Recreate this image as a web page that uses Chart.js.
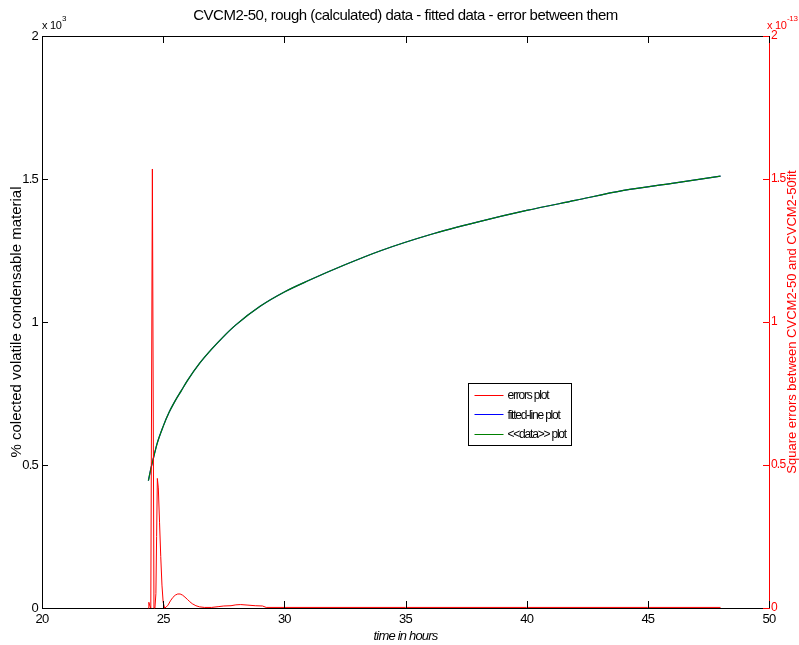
<!DOCTYPE html>
<html lang="en">
<head>
  <meta charset="UTF-8">
  <title>CVCM2-50 rough / fitted / error</title>
  <script src="https://cdn.jsdelivr.net/npm/chart.js"></script>
  <style>
    html, body { margin: 0; padding: 0; background: #fff; }
  </style>
</head>
<body>
  <canvas id="myChart" width="799" height="645"></canvas>
  <script>
    // axis ranges (left axis x 10^3, right axis x 10^-13)
    const xRange = [20, 50];
    const yRange = [0, 2];
    const xStep = 5;
    const yStep = 0.5;

    // <<data>> and fitted line (x 10^3)
    const fitHours  = [24.39, 24.5, 24.6, 24.75, 25.0, 25.25, 25.5, 25.75, 26.0, 26.5, 27.0, 27.5, 28.0, 29.0, 30.0, 31.0, 32.5, 34.0, 36.0, 38.0, 40.0, 42.0, 44.0, 46.0, 48.0];
    const fitValues = [0.445, 0.49, 0.525, 0.575, 0.635, 0.685, 0.725, 0.76, 0.795, 0.855, 0.905, 0.95, 0.99, 1.055, 1.105, 1.145, 1.2, 1.25, 1.305, 1.35, 1.39, 1.425, 1.46, 1.485, 1.51];
    const dataValues = [0.445, 0.49, 0.525, 0.575, 0.635, 0.685, 0.725, 0.76, 0.795, 0.855, 0.905, 0.95, 0.99, 1.055, 1.105, 1.145, 1.2, 1.25, 1.305, 1.35, 1.39, 1.425, 1.46, 1.485, 1.51];

    // square errors (x 10^-13)
    const errHours  = [24.38, 24.41, 24.44, 24.49, 24.555, 24.62, 24.66, 24.70, 24.73, 24.76, 24.80, 24.85, 24.90, 24.95, 25.00, 25.06, 25.12, 25.2, 25.3, 25.4, 25.5, 25.6, 25.7, 25.8, 25.9, 26.0, 26.1, 26.2, 26.35, 26.5, 26.7, 27.0, 27.3, 27.5, 27.8, 28.0, 28.2, 28.5, 28.8, 29.1, 29.25, 30, 35, 40, 45, 48];
    const errValues = [0, 0.02, 0.01, 0, 1.535, 0, 0, 0.05, 0.25, 0.453, 0.42, 0.3, 0.18, 0.08, 0.02, 0, 0.003, 0.01, 0.025, 0.037, 0.045, 0.049, 0.049, 0.045, 0.038, 0.03, 0.022, 0.015, 0.008, 0.004, 0.002, 0.002, 0.005, 0.007, 0.008, 0.011, 0.012, 0.01, 0.008, 0.007, 0.002, 0.002, 0.002, 0.002, 0.002, 0.002];

    const legendLabels = ['errors plot', 'fitted-line plot', '<<data>> plot'];
    const legendColors = ['#ff0000', '#0000ff', '#008000'];

    const FONT = 'Arial, "Liberation Sans", sans-serif';

    function toPoints(xs, ys) {
      return xs.map((x, i) => ({ x: x, y: ys[i] }));
    }

    // extra MATLAB-look bits: inward ticks, top border, title, exponents, legend
    const matlabAxes = {
      id: 'matlabAxes',
      beforeDraw(chart) {
        const ctx = chart.ctx;
        ctx.save();
        ctx.fillStyle = '#fff';
        ctx.fillRect(0, 0, chart.width, chart.height);
        ctx.restore();
        ctx.letterSpacing = '-0.8px';
      },
      afterDraw(chart) {
        const ctx = chart.ctx;
        const a = chart.chartArea;
        const xs = chart.scales.x, yl = chart.scales.y, yr = chart.scales.y1;
        const tick = 6;
        ctx.save();
        ctx.lineWidth = 1;

        // top border
        ctx.strokeStyle = '#000';
        ctx.beginPath();
        ctx.moveTo(a.left, a.top + 0.5);
        ctx.lineTo(a.right, a.top + 0.5);
        ctx.stroke();

        // x ticks, bottom and top, pointing in
        xs.ticks.forEach(t => {
          const px = Math.round(xs.getPixelForValue(t.value)) + 0.5;
          ctx.beginPath();
          ctx.moveTo(px, a.bottom); ctx.lineTo(px, a.bottom - tick - 1);
          ctx.moveTo(px, a.top); ctx.lineTo(px, a.top + tick + 1);
          ctx.stroke();
        });
        // left ticks
        yl.ticks.forEach(t => {
          const py = Math.round(yl.getPixelForValue(t.value)) + 0.5;
          ctx.beginPath();
          ctx.moveTo(a.left, py); ctx.lineTo(a.left + tick, py);
          ctx.stroke();
        });
        // right ticks (red)
        ctx.strokeStyle = '#ff0000';
        yr.ticks.forEach(t => {
          const py = Math.round(yr.getPixelForValue(t.value)) + 0.5;
          ctx.beginPath();
          ctx.moveTo(a.right, py); ctx.lineTo(a.right - tick, py);
          ctx.stroke();
        });

        // title
        ctx.letterSpacing = '-0.5px';
        ctx.fillStyle = '#000';
        ctx.font = '15px ' + FONT;
        ctx.textAlign = 'center';
        ctx.textBaseline = 'middle';
        ctx.fillText('CVCM2-50, rough (calculated) data - fitted data - error between them', (a.left + a.right) / 2, 16);

        // exponent labels
        ctx.letterSpacing = '-0.3px';
        ctx.textAlign = 'left';
        ctx.font = '11px ' + FONT;
        ctx.fillText('x 10', a.left, 26);
        ctx.font = '8px ' + FONT;
        ctx.fillText('3', a.left + 20, 19);
        ctx.fillStyle = '#ff0000';
        ctx.font = '11px ' + FONT;
        ctx.fillText('x 10', a.right - 2, 26);
        ctx.font = '8px ' + FONT;
        ctx.fillText('-13', a.right + 18, 19);

        // axis titles
        ctx.letterSpacing = '0px';
        ctx.textAlign = 'center';
        ctx.save();
        ctx.fillStyle = '#000';
        ctx.font = '15px ' + FONT;
        ctx.translate(17, (a.top + a.bottom) / 2);
        ctx.rotate(-Math.PI / 2);
        ctx.fillText('% colected volatile condensable material', 0, 0);
        ctx.restore();
        ctx.save();
        ctx.fillStyle = '#ff0000';
        ctx.font = '13px ' + FONT;
        ctx.translate(792, (a.top + a.bottom) / 2);
        ctx.rotate(-Math.PI / 2);
        ctx.fillText('Square errors between CVCM2-50 and CVCM2-50fit', 0, 0);
        ctx.restore();
        ctx.fillStyle = '#000';
        ctx.letterSpacing = '-0.8px';
        ctx.font = 'italic 13px ' + FONT;
        ctx.fillText('time in hours', (a.left + a.right) / 2, 636);

        // legend box
        const bx = 468.5, by = 383.5, bw = 103, bh = 62;
        ctx.fillStyle = '#fff';
        ctx.fillRect(bx, by, bw, bh);
        ctx.strokeStyle = '#000';
        ctx.strokeRect(bx, by, bw, bh);
        ctx.font = '12px ' + FONT;
        ctx.letterSpacing = '-1.2px';
        ctx.textAlign = 'left';
        legendLabels.forEach((lbl, i) => {
          const ly = by + 11.5 + i * 19.3;
          ctx.strokeStyle = legendColors[i];
          ctx.beginPath();
          ctx.moveTo(bx + 6, Math.round(ly) + 0.5);
          ctx.lineTo(bx + 35, Math.round(ly) + 0.5);
          ctx.stroke();
          ctx.fillStyle = '#000';
          ctx.fillText(lbl, bx + 39, ly + 1);
        });
        ctx.restore();
      }
    };

    const tickText = v => String(v);

    const ctx = document.getElementById('myChart').getContext('2d');
    new Chart(ctx, {
      type: 'line',
      data: {
        datasets: [
          {
            label: 'errors plot',
            data: toPoints(errHours, errValues),
            yAxisID: 'y1',
            borderColor: '#ff0000',
            borderWidth: 1,
            pointRadius: 0,
            tension: 0,
            clip: 4,
            order: 0
          },
          {
            label: '<<data>> plot',
            data: toPoints(fitHours, dataValues),
            yAxisID: 'y',
            borderColor: '#008000',
            borderWidth: 1.2,
            pointRadius: 0,
            cubicInterpolationMode: 'monotone',
            order: 1
          },
          {
            label: 'fitted-line plot',
            data: toPoints(fitHours, fitValues),
            yAxisID: 'y',
            borderColor: '#0000ff',
            borderWidth: 1.2,
            pointRadius: 0,
            cubicInterpolationMode: 'monotone',
            order: 2
          }
        ]
      },
      options: {
        responsive: false,
        animation: false,
        devicePixelRatio: 1,
        layout: { padding: { top: 36, left: 0, right: 0, bottom: 0 } },
        plugins: {
          legend: { display: false },
          tooltip: { enabled: false },
          title: { display: false }
        },
        scales: {
          x: {
            type: 'linear',
            position: 'bottom',
            min: xRange[0],
            max: xRange[1],
            ticks: { stepSize: xStep, color: '#000', font: { family: FONT, size: 13 }, padding: 4, maxRotation: 0, callback: tickText },
            grid: { drawOnChartArea: false, drawTicks: false },
            border: { color: '#000', width: 1 },
            afterFit: s => { s.height = 37; }
          },
          y: {
            type: 'linear',
            position: 'left',
            min: yRange[0],
            max: yRange[1],
            ticks: { stepSize: yStep, color: '#000', font: { family: FONT, size: 13 }, padding: 4, callback: tickText },
            grid: { drawOnChartArea: false, drawTicks: false },
            border: { color: '#000', width: 1 },
            afterFit: s => { s.width = 42; }
          },
          y1: {
            type: 'linear',
            position: 'right',
            min: yRange[0],
            max: yRange[1],
            ticks: { stepSize: yStep, color: '#ff0000', font: { family: FONT, size: 12 }, padding: 2, callback: tickText },
            grid: { drawOnChartArea: false, drawTicks: false },
            border: { color: '#ff0000', width: 1 },
            afterFit: s => { s.width = 30; }
          }
        }
      },
      plugins: [matlabAxes]
    });
  </script>
</body>
</html>
